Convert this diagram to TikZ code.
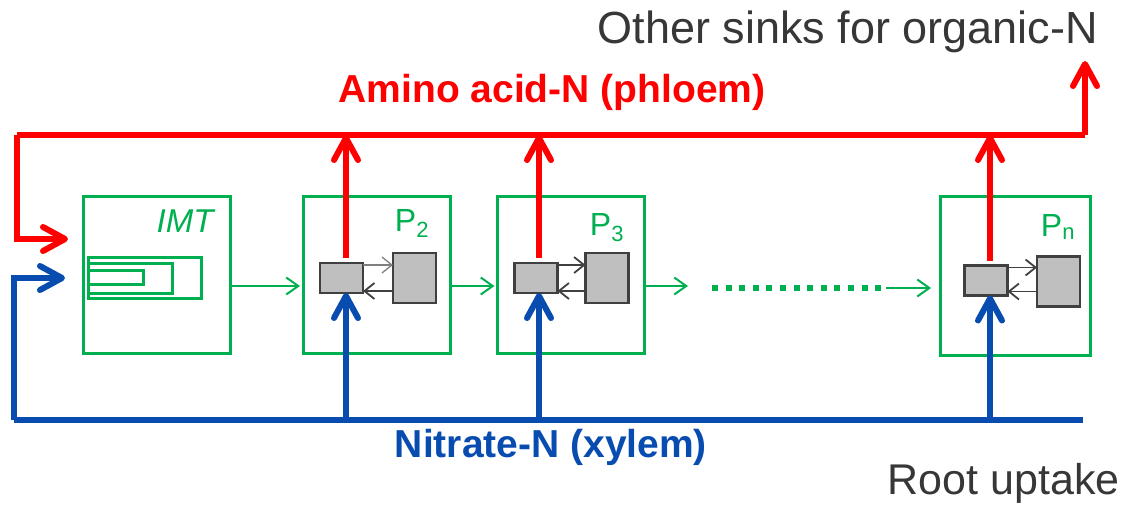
\documentclass[tikz,border=0pt]{standalone}
\usepackage{fontspec}
\setmainfont{Liberation Sans}
\usetikzlibrary{arrows.meta}
\definecolor{gr}{RGB}{0,176,80}
\definecolor{rd}{RGB}{255,0,0}
\definecolor{bl}{RGB}{8,76,176}
\definecolor{dk}{RGB}{64,64,64}
\definecolor{tx}{RGB}{55,55,55}
\definecolor{fillg}{RGB}{191,191,191}
\tikzset{
  bigtip/.style={-{Straight Barb[length=22pt,width=24pt,line cap=round,line join=round]}},
  redline/.style={draw=rd,line width=6pt},
  blueline/.style={draw=bl,line width=6pt},
  gbox/.style={draw=gr,line width=3pt,minimum width=147pt,minimum height=157pt,inner sep=0pt,outer sep=0pt},
  gsmall/.style={draw=gr,line width=3pt},
  gflow/.style={draw=gr,line width=2pt,-{Straight Barb[length=12pt,width=17pt]}},
  smallbox/.style={draw=dk,fill=fillg,line width=2.2pt,minimum width=43pt,minimum height=30pt,inner sep=0pt,outer sep=0pt},
  bigbox/.style={draw=dk,fill=fillg,line width=2.2pt,minimum width=43pt,minimum height=50pt,inner sep=0pt,outer sep=0pt},
  garr/.style={draw=dk,line width=1.8pt,-{Straight Barb[length=10pt,width=16pt]}},
  plabel/.style={text=gr,font=\fontsize{32}{36}\selectfont,anchor=base,inner sep=0pt},
}
\begin{document}
\begin{tikzpicture}[x=1pt,y=-1pt]
\useasboundingbox (0,0) rectangle (1128,504);
% boxes
\node[gbox] (imt) at (156.5,274.5) {};
\node[gbox] (p2) at (376.5,274.5) {};
\node[gbox] (p3) at (571,274.5) {};
\node[gbox,minimum width=150pt,minimum height=159pt] (pn) at (1015,275.5) {};
% labels
\node[text=gr,font=\fontsize{33}{36}\selectfont\itshape,anchor=base,inner sep=0pt] (imtl) at (185,232) {IMT};
\node[plabel] (p2l) at (412,231) {P\textsubscript{\fontsize{22}{24}\selectfont 2}};
\node[plabel] (p3l) at (607,235) {P\textsubscript{\fontsize{22}{24}\selectfont 3}};
\node[plabel] (pnl) at (1058,236) {P\textsubscript{\fontsize{22}{24}\selectfont n}};
% IMT inner nested rectangles
\draw[gsmall] (88,257) rectangle (201,298);
\draw[gsmall] (88,263) rectangle (172,293);
\draw[gsmall] (88,270) rectangle (143,284);
% grey boxes
\node[smallbox] (s2) at (341.5,278) {};
\node[bigbox] (b2) at (414.5,278) {};
\node[smallbox] (s3) at (536,278) {};
\node[bigbox] (b3) at (607,278) {};
\node[smallbox] (sn) at (986,280.5) {};
\node[bigbox] (bn) at (1058.5,281.5) {};
% grey exchange arrows
\draw[garr,draw=gray,line width=1.3pt] ([yshift=-2pt]s2.north east) -- ([yshift=-2pt]s2.north east -| b2.west);
\draw[garr] ([yshift=2pt]s2.south east -| b2.west) -- ([yshift=2pt]s2.south east);
\draw[garr] ([yshift=-2pt]s3.north east) -- ([yshift=-2pt]s3.north east -| b3.west);
\draw[garr] ([yshift=2pt]s3.south east -| b3.west) -- ([yshift=2pt]s3.south east);
\draw[garr] ([yshift=-2pt]sn.north east) -- ([yshift=-2pt]sn.north east -| bn.west);
\draw[garr] ([yshift=4pt]sn.south east -| bn.west) -- ([yshift=4pt]sn.south east);
% green flow arrows
\coordinate (f1) at (0,286);
\draw[gflow] (imt.east |- f1) -- ([xshift=-3pt]p2.west |- f1);
\draw[gflow] (p2.east |- f1) -- ([xshift=-3pt]p3.west |- f1);
\draw[gflow] (p3.east |- f1) -- (688,286);
\coordinate (dots1) at (712,288);
\coordinate (dots2) at (886,288);
\draw[draw=gr,line width=6pt,dash pattern=on 6pt off 7.6pt] (dots1) -- (dots2);
\draw[gflow] (dots2) -- ([xshift=-9pt]pn.west |- dots2);
% phloem (red)
\coordinate (rl) at (17,135);
\coordinate (rr) at (1085,135);
\coordinate (sinkin) at (1085,61);
\coordinate (imtred) at (68,239);
\draw[redline,line join=miter] (rl) -- (rr);
\draw[redline,bigtip,line join=miter] (rl) -- (rl |- imtred) -- (imtred);
\draw[redline,bigtip,line join=miter] (rr) -- (sinkin);
\draw[redline,bigtip] ([xshift=4.5pt,yshift=5pt]s2.north) -- ([xshift=4.5pt]s2.north |- rl);
\draw[redline,bigtip] ([xshift=3pt,yshift=5pt]s3.north) -- ([xshift=3pt]s3.north |- rl);
\draw[redline,bigtip] ([xshift=4pt,yshift=5pt]sn.north) -- ([xshift=4pt]sn.north |- rl);
% xylem (blue)
\coordinate (bll) at (13.5,420);
\coordinate (blr) at (1083,420);
\coordinate (imtblue) at (65,278);
\draw[blueline] (bll) -- (blr);
\draw[blueline,bigtip,line join=miter] (bll) -- (bll |- imtblue) -- (imtblue);
\draw[blueline,bigtip] ([xshift=4.5pt]s2.south |- bll) -- ([xshift=4.5pt]s2.south);
\draw[blueline,bigtip] ([xshift=3pt]s3.south |- bll) -- ([xshift=3pt]s3.south);
\draw[blueline,bigtip] ([xshift=4pt]sn.south |- bll) -- ([xshift=4pt]sn.south);
% texts
\node[text=tx,font=\fontsize{45}{50}\selectfont,anchor=base east,inner sep=0pt] (sinks) at (1098,43) {Other sinks for organic-N};
\node[text=rd,font=\fontsize{39}{44}\selectfont\bfseries,anchor=base,inner sep=0pt] (phl) at (552,102) {Amino acid-N (phloem)};
\node[text=bl,font=\fontsize{39}{44}\selectfont\bfseries,anchor=base,inner sep=0pt] (xyl) at (551,457) {Nitrate-N (xylem)};
\node[text=tx,font=\fontsize{43}{48}\selectfont,anchor=base east,inner sep=0pt] (root) at (1120,494) {Root uptake};
\end{tikzpicture}
\end{document}
